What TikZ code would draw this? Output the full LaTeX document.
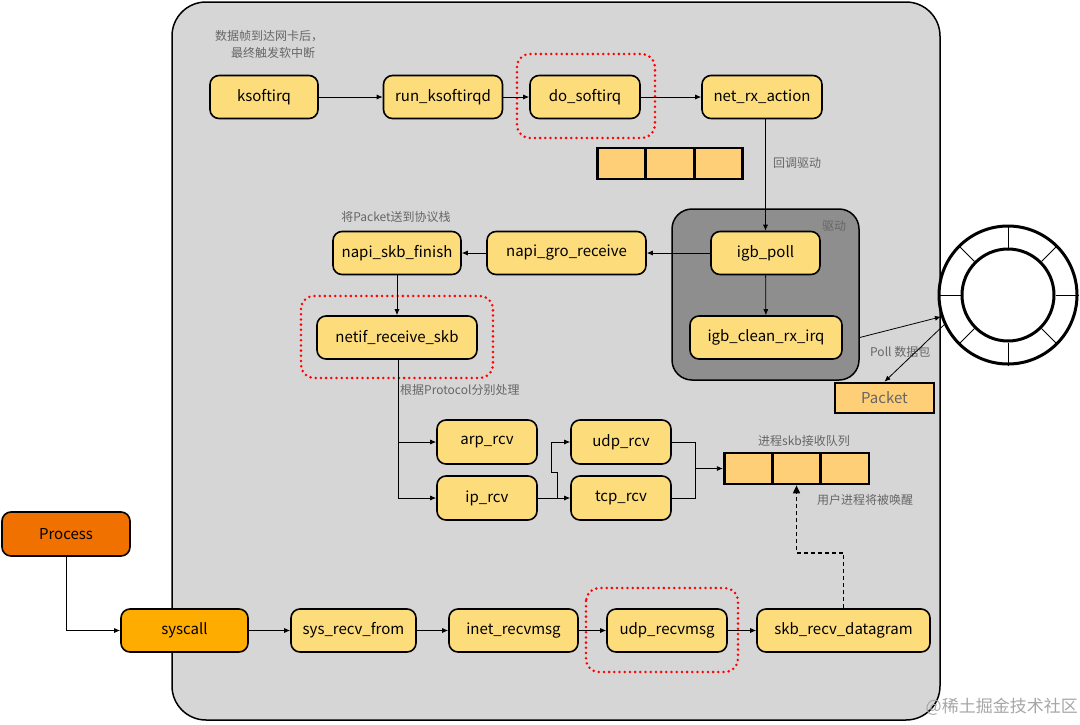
\documentclass[tikz,border=0pt]{standalone}
\usepackage{fontspec}
\setmainfont{Noto Sans CJK SC}
\usetikzlibrary{arrows.meta}
\definecolor{nodey}{HTML}{FDDD7B}
\definecolor{qcol}{HTML}{FFCF78}
\definecolor{bggray}{HTML}{D6D6D6}
\definecolor{drvgray}{HTML}{8E8E8E}
\definecolor{procol}{HTML}{F07100}
\definecolor{syscol}{HTML}{FFAC00}
\definecolor{lblgray}{HTML}{666666}
\tikzset{
  fn/.style={draw=black, line width=1.6pt, rounded corners=9pt, fill=nodey, minimum height=43pt, inner sep=0pt, font=\fontsize{15}{17}\selectfont},
  qcell/.style={draw=black, line width=2.6pt, fill=qcol, minimum width=48pt, minimum height=31pt, inner sep=0pt},
  lbl/.style={text=lblgray, font=\fontsize{12}{17}\selectfont, inner sep=0pt, align=center},
  arr/.style={draw=black, line width=0.8pt, -{Latex[length=6pt,width=5pt]}},
  redbox/.style={draw=red, line width=2.8pt, line cap=round, dash pattern=on 0pt off 5.2pt, rounded corners=13pt}
}
\begin{document}
\begin{tikzpicture}[x=1pt,y=-1pt]
\useasboundingbox (0,0) rectangle (1080,724);
% big background
\draw[line width=1.5pt, fill=bggray, rounded corners=34pt] (172,2) rectangle (940,720);
% driver box
\node[draw=black, line width=1.5pt, fill=drvgray, rounded corners=20pt, minimum width=187pt, minimum height=171pt, inner sep=0pt] (drv) at (765.5,294.5) {};
\node[lbl] (drvlbl) at (834,226) {驱动};
% red dotted highlights
\draw[redbox] (517,54) rectangle (655,138);
\draw[redbox] (301,296) rectangle (493,378);
\draw[redbox] (586,588) rectangle (738,672);
% top row
\node[fn, minimum width=108pt] (ksoft) at (264,97) {ksoftirq};
\node[fn, minimum width=119pt] (runk) at (443,97) {run\_ksoftirqd};
\node[fn, minimum width=110pt] (dosoft) at (585,97) {do\_softirq};
\node[fn, minimum width=120pt] (netrx) at (762,97) {net\_rx\_action};
\node[lbl] (lbl1) at (269,44) {数据帧到达网卡后，\\\hspace*{8pt}最终触发软中断};
% top queue
\node[qcell] (tq1) at (621.3,163.5) {};
\node[qcell] (tq2) at (670,163.5) {};
\node[qcell] (tq3) at (718.7,163.5) {};
\node[lbl, anchor=west] (lbl2) at (773,163) {回调驱动};
% second row
\node[fn, minimum width=109pt] (igbpoll) at (765.5,253) {igb\_poll};
\node[fn, minimum width=152pt] (igbclean) at (766,337.5) {igb\_clean\_rx\_irq};
\node[fn, minimum width=159pt] (napigro) at (566.5,253) {napi\_gro\_receive};
\node[fn, minimum width=128pt] (napiskb) at (397,253) {napi\_skb\_finish};
\node[lbl] (lbl3) at (396,217) {将Packet送到协议栈};
\node[fn, minimum width=160pt] (netif) at (397,337.5) {netif\_receive\_skb};
\node[lbl, anchor=west] (lbl4) at (400,390) {根据Protocol分别处理};
% protocol nodes
\node[fn, minimum width=100pt, minimum height=44pt] (arp) at (487,442) {arp\_rcv};
\node[fn, minimum width=100pt, minimum height=44pt] (ip) at (487,498) {ip\_rcv};
\node[fn, minimum width=100pt, minimum height=44pt] (udp) at (621,442) {udp\_rcv};
\node[fn, minimum width=100pt, minimum height=44pt] (tcp) at (621,498) {tcp\_rcv};
% skb queue
\node[qcell] (sq1) at (748.2,468.5) {};
\node[qcell] (sq2) at (796.5,468.5) {};
\node[qcell] (sq3) at (844.8,468.5) {};
\node[lbl] (lbl5) at (804,441) {进程skb接收队列};
\node[lbl, anchor=west] (lbl6) at (817,500) {用户进程将被唤醒};
% ring
\node[circle, draw=black, line width=3pt, fill=white, minimum size=138pt, inner sep=0pt] (ring) at (1008,295) {};
\node[circle, draw=black, line width=3pt, fill=white, minimum size=92pt, inner sep=0pt] (ringin) at (1008,295) {};
\foreach \a in {0,45,...,315}{
  \draw[line width=1pt] (ringin.\a) -- (ring.\a);
}
% packet
\node[draw=black, line width=2.6pt, fill=qcol, minimum width=99pt, minimum height=30pt, inner sep=0pt, text=lblgray, font=\fontsize{15}{17}\selectfont] (packet) at (884.5,398) {Packet};
\node[lbl, anchor=west] (lbl7) at (870,352) {Poll 数据包};
% bottom row
\node[fn, fill=procol, minimum width=128pt, minimum height=44pt] (proc) at (66,534) {Process};
\node[fn, fill=syscol, minimum width=127pt] (sys) at (184.5,630.5) {syscall};
\node[fn, minimum width=125pt] (sysrecv) at (353.5,630.5) {sys\_recv\_from};
\node[fn, minimum width=129pt] (inet) at (513.5,630.5) {inet\_recvmsg};
\node[fn, minimum width=120pt] (udpmsg) at (667,630.5) {udp\_recvmsg};
\node[fn, minimum width=173pt] (skbdg) at (843.5,630.5) {skb\_recv\_datagram};
% watermark
\node[text=black!35, font=\fontsize{17}{20}\selectfont, anchor=east, inner sep=0pt] (wm) at (1078,707) {@稀土掘金技术社区};
% connectors
\draw[arr] (ksoft) -- (runk);
\draw[arr] (runk) -- (dosoft);
\draw[arr] (dosoft) -- (netrx);
\draw[arr] (netrx.south -| igbpoll.north) -- (igbpoll.north);
\draw[arr] (igbpoll) -- (napigro);
\draw[arr] (igbpoll) -- (igbclean);
\draw[arr] (napigro) -- (napiskb);
\draw[arr] (napiskb) -- (netif);
\coordinate (pbend) at (398,498);
\draw[line width=0.8pt] (netif.south -| pbend) -- (pbend);
\draw[arr] (netif.south -| pbend) |- (arp.west);
\draw[arr] (pbend) -- (ip.west);
\draw[arr] (ip.east) -- (tcp.west);
\coordinate (br1) at (557,498);
\coordinate (br2) at (557,472);
\coordinate (br3) at (551,472);
\draw[arr] (br1) -- (br2) -- (br3) |- (udp.west);
\coordinate (mg) at (695,468.5);
\draw[line width=0.8pt] (udp.east) -| (mg);
\draw[line width=0.8pt] (tcp.east) -| (mg);
\draw[arr] (mg) -- (sq1.west);
\draw[arr] (igbclean.east -| drv.east) -- (ring.198);
\draw[arr] (ring.205) -- (packet.north);
\draw[arr] (proc.south) |- (sys.west);
\draw[arr] (sys) -- (sysrecv);
\draw[arr] (sysrecv) -- (inet);
\draw[arr] (inet) -- (udpmsg);
\draw[arr] (udpmsg) -- (skbdg);
\coordinate (dbend) at (843.5,553);
\draw[line width=1.6pt, dash pattern=on 4pt off 3pt, -{Triangle[length=8pt,width=7pt]}] (skbdg.north) -- (dbend) -| (sq2.south);
\end{tikzpicture}
\end{document}
